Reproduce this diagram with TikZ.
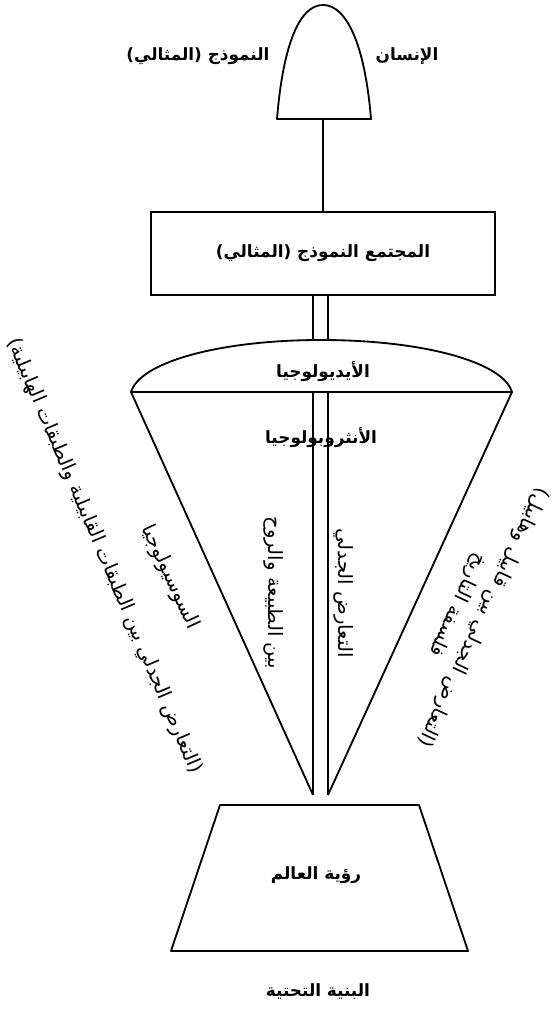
\documentclass[tikz,border=0pt]{standalone}
\usepackage{fontspec}
\newfontfamily\arabicfont[Script=Arabic]{DejaVu Sans}
\TeXXeTstate=1
\usetikzlibrary{positioning,calc}
\newcommand{\rtltext}[1]{\beginR #1\endR}
\tikzset{
  wire/.style={line width=1.3pt, line join=round},
  lbl/.style={font=\arabicfont\bfseries\fontsize{12}{14}\selectfont, inner sep=1pt},
  side/.style={font=\arabicfont\fontsize{14}{17}\selectfont, inner sep=1pt, align=center},
  society/.style={draw, line width=1.3pt, minimum width=8.6cm, minimum height=2.075cm,
              font=\arabicfont\bfseries\fontsize{12}{14}\selectfont},
}
\begin{document}
\begin{tikzpicture}
  \useasboundingbox (0,0) rectangle (13.9,25.275);
  % the ideal man on top
  \draw[wire] (6.925,22.3) .. controls (7.08,24.2) and (7.5,25.15) .. (8.075,25.15)
        .. controls (8.65,25.15) and (9.12,24.2) .. (9.275,22.3) -- cycle;
  \coordinate (manbase) at (8.075,22.3);
  \node[lbl] (manR) at (10.175,23.875) {\rtltext{الإنسان}};
  \node[lbl] (manL) at (4.95,23.875) {\rtltext{النموذج (المثالي)}};
  % ideal society
  \node[society] (soc) at (8.075,18.9375) {\rtltext{المجتمع النموذج (المثالي)}};
  \draw[wire] (manbase) -- (soc.north);
  % ideology lens and the cone
  \coordinate (lensL) at (3.275,15.475);
  \coordinate (lensR) at (12.8,15.475);
  \coordinate (crown) at (8.025,16.775);
  \coordinate (postL) at (7.825,5.4);
  \coordinate (postR) at (8.2,5.4);
  \draw[wire] (lensL) .. controls (3.5,16.225) and (5.5,16.775) .. (crown)
        .. controls (10.575,16.775) and (12.575,16.225) .. (lensR) -- cycle;
  \foreach \p in {postL,postR}{
    \draw[wire] (soc.south -| \p) -- (crown -| \p);
    \draw[wire] (lensL -| \p) -- (\p);
  }
  \draw[wire] (lensL) -- (postL);
  \draw[wire] (lensR) -- (postR);
  \node[lbl] (ideo) at (8.075,15.975) {\rtltext{الأيديولوجيا}};
  \node[lbl] (anthro) at (8.025,14.325) {\rtltext{الأنثروبولوجيا}};
  \node[side,rotate=-90] (nature) at (6.85,10.45) {\rtltext{بين الطبيعة والروح}};
  \node[side,rotate=-90] (dial) at (8.6,10.45) {\rtltext{التعارض الجدلي}};
  \node[side,rotate=-65] (socio) at (4.25,10.85) {\rtltext{السوسيولوجيا}};
  \node[side,rotate=-67] (classes) at (2.6,11.375)
        {\rtltext{(التعارض الجدلي بين الطبقات القابيلية والطبقات الهابيلية)}};
  \node[side,rotate=-115] (history) at (11.75,10.0)
        {\rtltext{(التعارض الجدلي بين قابيل وهابيل)}\\[3pt]\rtltext{فلسفة التاريخ}};
  % world view base
  \coordinate (baseTL) at (5.5,5.15);
  \coordinate (baseTR) at (10.475,5.15);
  \draw[wire] (baseTL) -- (baseTR) -- (11.7,1.5) -- (4.275,1.5) -- cycle;
  \node[lbl] (world) at (7.9,3.4) {\rtltext{رؤية العالم}};
  \node[lbl] (infra) at (7.95,0.475) {\rtltext{البنية التحتية}};
\end{tikzpicture}
\end{document}
